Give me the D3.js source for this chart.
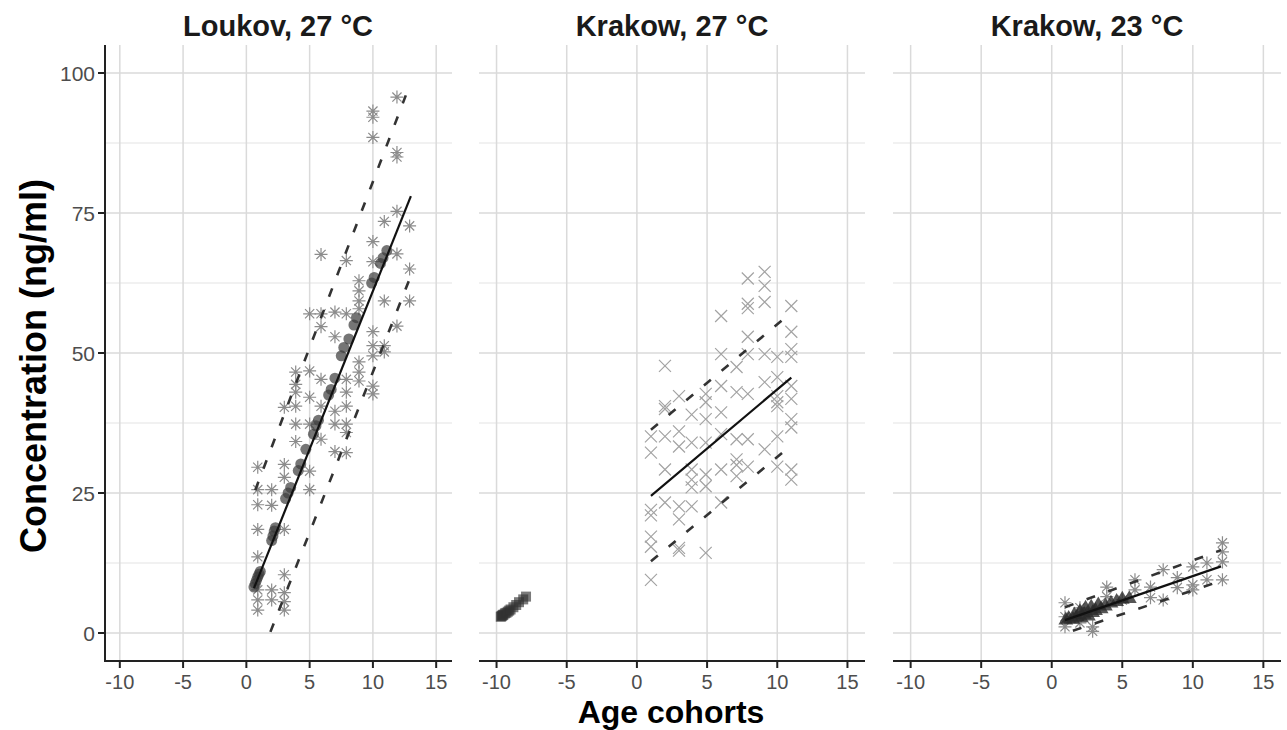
<!DOCTYPE html>
<html><head><meta charset="utf-8">
<script src="https://cdn.jsdelivr.net/npm/d3@7"></script>
<style>
body{margin:0;background:#fff}
text{font-family:"Liberation Sans",Arial,sans-serif}
</style>
</head><body>
<svg id="chart" width="1287" height="730"></svg>
<script>
// ---------- data ----------
const panelTitles = ["Loukov, 27 °C", "Krakow, 27 °C", "Krakow, 23 °C"];
const xTicks = [-10, -5, 0, 5, 10, 15];
const yTicks = [0, 25, 50, 75, 100];
const yMinorTicks = [12.5, 37.5, 62.5, 87.5];
const xTitle = "Age cohorts";
const yTitle = "Concentration (ng/ml)";

// Loukov 27 °C : observed (asterisks)
const loukovObs = [
 [0.9,29.6],[0.9,25.6],[0.9,22.9],[0.9,18.5],[0.9,13.6],[0.9,7.7],[0.9,5.9],[0.9,4.1],
 [2.0,25.6],[2.0,22.8],[2.0,7.7],[2.0,5.9],
 [3.0,40.3],[3.0,30.1],[3.0,27.8],[3.0,18.5],[3.0,10.4],[3.0,7.2],[3.0,5.6],[3.0,4.1],
 [3.9,46.6],[3.9,44.4],[3.9,43.0],[3.9,40.5],[3.9,37.3],[3.9,34.2],
 [5.0,57.0],[5.0,46.8],[5.0,42.1],[5.0,37.3],[5.0,28.9],[5.0,25.6],
 [5.9,67.6],[5.9,57.0],[5.9,54.7],[5.9,45.3],[5.9,40.5],[5.9,34.6],
 [7.0,57.3],[7.0,52.9],[7.0,39.6],[7.0,37.3],[7.0,32.4],
 [7.9,66.5],[7.9,57.0],[7.9,45.3],[7.9,43.0],[7.9,40.5],[7.9,37.3],[7.9,35.8],[7.9,32.2],
 [8.9,62.9],[8.9,61.1],[8.9,59.3],[8.9,57.9],[8.9,48.4],[8.9,46.6],[8.9,45.0],
 [10.0,93.2],[10.0,92.1],[10.0,88.5],[10.0,69.9],[10.0,66.3],[10.0,53.8],[10.0,51.3],[10.0,49.5],[10.0,44.1],[10.0,42.7],
 [10.9,73.5],[10.9,59.3],[10.9,51.3],[10.9,50.2],
 [11.9,95.7],[11.9,85.8],[11.9,85.0],[11.9,75.3],[11.9,67.7],[11.9,54.8],
 [12.9,72.7],[12.9,65.0],[12.9,59.3]
];
// Loukov 27 °C : fitted (circles)
const loukovFit = [
 [0.6,8.2],[0.7,8.8],[0.8,9.4],[0.9,10.0],[1.0,10.5],[1.1,11.0],[2.0,16.5],[2.1,17.3],[2.2,18.2],[2.3,18.8],
 [3.1,24.0],[3.3,25.0],[3.5,26.0],[4.1,29.0],[4.3,30.2],[4.7,32.8],[5.3,35.5],[5.5,37.0],[5.7,38.0],
 [6.5,42.5],[6.7,43.5],[7.0,45.5],[7.5,49.5],[7.7,51.0],[8.1,52.5],[8.5,55.0],[8.7,56.3],
 [9.9,62.5],[10.1,63.5],[10.6,66.0],[10.8,67.0],[11.1,68.3]
];
const loukovLine  = [[0.6,8.0],[13.0,78.0]];
const loukovUpper = [[0.7,25.5],[12.6,96.0]];
const loukovLower = [[1.9,0.2],[13.0,63.8]];

// Krakow 27 °C : observed (crosses)
const krakow27Obs = [
 [1.0,35.1],[1.0,32.2],[1.0,22.0],[1.0,21.0],[1.0,17.2],[1.0,15.4],[1.0,9.5],
 [2.0,47.7],[2.0,40.5],[2.0,40.0],[2.0,35.1],[2.0,29.2],[2.0,23.3],
 [3.0,42.3],[3.0,36.0],[3.0,33.3],[3.0,22.6],[3.0,20.3],[3.0,15.2],[3.0,14.7],
 [3.9,39.0],[3.9,34.0],[3.9,29.2],[3.9,27.4],[3.9,26.0],[3.9,22.6],
 [4.9,42.7],[4.9,41.2],[4.9,38.2],[4.9,34.0],[4.9,28.3],[4.9,26.2],[4.9,14.3],
 [6.0,56.6],[6.0,49.8],[6.0,44.1],[6.0,39.4],[6.0,35.5],[6.0,29.2],[6.0,23.3],
 [7.1,47.5],[7.1,43.0],[7.1,34.6],[7.1,31.0],[7.1,30.0],[7.1,28.0],
 [7.9,63.3],[7.9,58.8],[7.9,58.0],[7.9,52.9],[7.9,49.8],[7.9,42.7],[7.9,34.6],[7.9,29.7],
 [9.1,64.5],[9.1,62.0],[9.1,59.1],[9.1,49.8],[9.1,44.8],[9.1,32.8],
 [10.0,49.3],[10.0,45.7],[10.0,42.3],[10.0,41.2],[10.0,40.5],[10.0,35.1],[10.0,29.7],
 [11.0,58.4],[11.0,53.8],[11.0,50.7],[11.0,49.3],[11.0,44.1],[11.0,41.8],[11.0,38.2],[11.0,36.7],[11.0,29.2],[11.0,27.4]
];
// Krakow 27 °C : fitted (squares)
const krakow27Fit = [
 [-9.7,2.9],[-9.65,3.0],[-9.6,3.1],[-9.55,3.2],[-9.5,3.3],[-9.4,3.5],[-9.3,3.6],[-9.2,3.8],
 [-9.1,4.0],[-9.0,4.2],[-8.8,4.6],[-8.6,5.0],[-8.4,5.5],[-8.1,6.0],[-7.9,6.5]
];
const krakow27Line  = [[1.0,24.5],[11.0,45.6]];
const krakow27Upper = [[1.0,36.3],[11.0,57.2]];
const krakow27Lower = [[1.0,12.8],[11.0,33.5]];

// Krakow 23 °C : observed (asterisks)
const krakow23Obs = [
 [0.94,5.4],[0.94,2.9],[0.94,1.1],[2.0,4.5],[2.0,1.8],[2.9,1.1],[2.9,0.3],[3.9,8.2],[3.9,6.5],
 [5.0,5.9],[5.9,9.5],[5.9,7.7],[7.0,8.2],[7.0,6.3],[7.9,11.3],[7.9,5.9],[8.9,9.9],[8.9,8.1],
 [10.0,11.8],[10.0,8.6],[10.0,7.7],[11.0,12.5],[11.0,9.5],[12.1,16.1],[12.1,14.5],[12.1,12.7],[12.1,9.5]
];
// Krakow 23 °C : fitted (triangles)
const krakow23Fit = [
 [1.0,2.3],[1.2,2.6],[1.5,2.4],[1.6,3.2],[1.8,2.9],[2.0,3.8],[2.1,2.7],[2.3,3.3],[2.4,4.4],[2.6,3.0],
 [2.8,4.6],[2.9,3.6],[3.1,4.0],[3.3,5.0],[3.5,4.3],[3.8,4.8],[4.2,5.3],[4.6,5.6],[5.0,6.0],[5.5,6.1]
];
const krakow23Line  = [[0.94,2.3],[12.0,11.9]];
const krakow23Upper = [[0.94,4.6],[12.0,14.8]];
const krakow23Lower = [[1.5,0.4],[12.0,9.3]];

// ---------- layout ----------
const svg = d3.select("#chart");
const yTop = 45, yBottom = 661;
const panels = [
  {x0:104, x1:452, obs:loukovObs, obsShape:"asterisk", fit:loukovFit, fitShape:"circle", line:loukovLine, upper:loukovUpper, lower:loukovLower, yAxis:true},
  {x0:479, x1:865, obs:krakow27Obs, obsShape:"cross", fit:krakow27Fit, fitShape:"square", line:krakow27Line, upper:krakow27Upper, lower:krakow27Lower, yAxis:false},
  {x0:893, x1:1281, obs:krakow23Obs, obsShape:"asterisk", fit:krakow23Fit, fitShape:"triangle", line:krakow23Line, upper:krakow23Upper, lower:krakow23Lower, yAxis:false}
];
const y = d3.scaleLinear().domain([-5,105]).range([yBottom, yTop]);

const asteriskPath = "M-6.5,0H6.5M0,-6.5V6.5M-4.6,-4.6L4.6,4.6M-4.6,4.6L4.6,-4.6";
const crossPath = "M-6,-6L6,6M-6,6L6,-6";
const triPath = d3.symbol(d3.symbolTriangle, 95)();

panels.forEach((p, i) => {
  const x = d3.scaleLinear().domain([-11.25,16.25]).range([p.x0, p.x1]);
  const g = svg.append("g");
  const clipId = "clip" + i;
  svg.append("clipPath").attr("id", clipId).append("rect")
    .attr("x", p.x0).attr("y", yTop).attr("width", p.x1 - p.x0).attr("height", yBottom - yTop);

  // grid
  g.selectAll(".ymin").data(yMinorTicks).join("line")
    .attr("x1", p.x0).attr("x2", p.x1).attr("y1", d => y(d)).attr("y2", d => y(d))
    .attr("stroke", "#e3e3e3").attr("stroke-width", 1);
  g.selectAll(".ymaj").data(yTicks).join("line")
    .attr("x1", p.x0).attr("x2", p.x1).attr("y1", d => y(d)).attr("y2", d => y(d))
    .attr("stroke", "#dadada").attr("stroke-width", 1.5);
  g.selectAll(".xmaj").data(xTicks).join("line")
    .attr("x1", d => x(d)).attr("x2", d => x(d)).attr("y1", yTop).attr("y2", yBottom)
    .attr("stroke", "#dadada").attr("stroke-width", 1.5);

  const m = svg.append("g").attr("clip-path", `url(#${clipId})`);

  // observed points
  m.selectAll(".obs").data(p.obs).join("path")
    .attr("transform", d => `translate(${x(d[0])},${y(d[1])})`)
    .attr("d", p.obsShape === "asterisk" ? asteriskPath : crossPath)
    .attr("fill", "none")
    .attr("stroke", p.obsShape === "asterisk" ? "#8c8c8c" : "#a3a3a3")
    .attr("stroke-width", 1.2);

  // fitted points
  if (p.fitShape === "circle") {
    m.selectAll(".fit").data(p.fit).join("circle")
      .attr("cx", d => x(d[0])).attr("cy", d => y(d[1])).attr("r", 5.5)
      .attr("fill", "#3a3a3a").attr("fill-opacity", 0.7);
  } else if (p.fitShape === "square") {
    m.selectAll(".fit").data(p.fit).join("rect")
      .attr("x", d => x(d[0]) - 5).attr("y", d => y(d[1]) - 5).attr("width", 10).attr("height", 10)
      .attr("fill", "#333").attr("fill-opacity", 0.65);
  } else {
    m.selectAll(".fit").data(p.fit).join("path")
      .attr("transform", d => `translate(${x(d[0])},${y(d[1])})`)
      .attr("d", triPath)
      .attr("fill", "#2a2a2a").attr("fill-opacity", 0.8);
  }

  const lineGen = d3.line().x(d => x(d[0])).y(d => y(d[1]));
  m.append("path").datum(p.upper).attr("d", lineGen)
    .attr("fill", "none").attr("stroke", "#333").attr("stroke-width", 2.6).attr("stroke-dasharray", "9,14");
  m.append("path").datum(p.lower).attr("d", lineGen)
    .attr("fill", "none").attr("stroke", "#333").attr("stroke-width", 2.6).attr("stroke-dasharray", "9,14");
  m.append("path").datum(p.line).attr("d", lineGen)
    .attr("fill", "none").attr("stroke", "#111").attr("stroke-width", 2.2);

  // x axis
  const xa = svg.append("g").attr("transform", `translate(0,${yBottom})`);
  xa.append("line").attr("x1", p.x0).attr("x2", p.x1).attr("stroke", "#222").attr("stroke-width", 2);
  xa.selectAll(".tk").data(xTicks).join("line")
    .attr("x1", d => x(d)).attr("x2", d => x(d)).attr("y1", 0).attr("y2", 7)
    .attr("stroke", "#222").attr("stroke-width", 2);
  xa.selectAll(".tl").data(xTicks).join("text")
    .attr("x", d => x(d)).attr("y", 28).attr("text-anchor", "middle")
    .attr("font-size", 20).attr("fill", "#4d4d4d").text(d => d);

  // y axis
  if (p.yAxis) {
    const ya = svg.append("g").attr("transform", `translate(${p.x0 + 1},0)`);
    ya.append("line").attr("y1", yTop).attr("y2", yBottom).attr("stroke", "#222").attr("stroke-width", 2);
    ya.selectAll(".tk").data(yTicks).join("line")
      .attr("x1", -7).attr("x2", 0).attr("y1", d => y(d)).attr("y2", d => y(d))
      .attr("stroke", "#222").attr("stroke-width", 2);
    ya.selectAll(".tl").data(yTicks).join("text")
      .attr("x", -10).attr("y", d => y(d) + 7.5).attr("text-anchor", "end")
      .attr("font-size", 21).attr("fill", "#4d4d4d").text(d => d);
  }

  // panel title
  svg.append("text").attr("x", (p.x0 + p.x1) / 2).attr("y", 36)
    .attr("text-anchor", "middle").attr("font-size", 29).attr("font-weight", "bold")
    .attr("fill", "#1a1a1a").text(panelTitles[i]);
});

// axis titles
svg.append("text").attr("x", 671).attr("y", 723).attr("text-anchor", "middle")
  .attr("font-size", 32).attr("font-weight", "bold").attr("fill", "#000").text(xTitle);
svg.append("text").attr("transform", "translate(46,366) rotate(-90)").attr("text-anchor", "middle")
  .attr("font-size", 36).attr("font-weight", "bold").attr("fill", "#000").text(yTitle);
</script>
</body></html>
